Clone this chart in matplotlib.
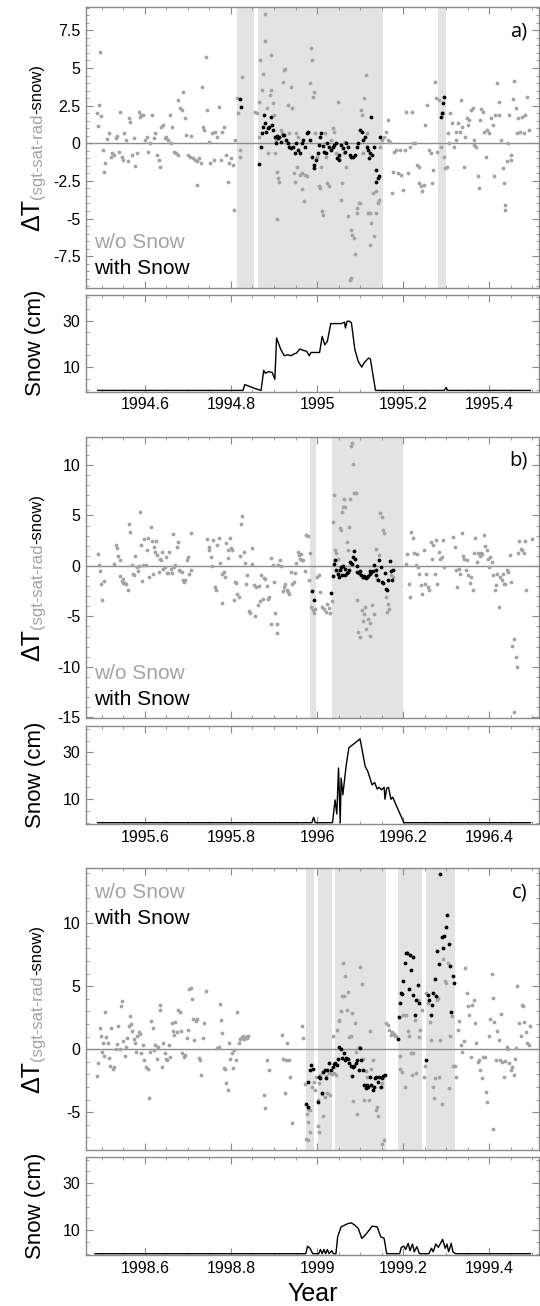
import numpy as np
import matplotlib
matplotlib.use("Agg")
import matplotlib.pyplot as plt
from matplotlib.ticker import MultipleLocator, FixedLocator, FuncFormatter

plt.rcParams['font.family'] = ['Liberation Sans', 'DejaVu Sans']
plt.rcParams['axes.unicode_minus'] = False

# ---------------- data (time = years after Jan 1 of the panel's base year) ----------------
base_years = [1994, 1995, 1998]
panel_tags = ["a)", "b)", "c)"]

# panel a: dT without snow (grey) / with snow (black)
a_grey = [
    (.488, 1.99), (.490, 1.15), (.496, 6.07), (.494, 2.54), (.498, 1.81), (.502, -0.44), (.504, -1.94),
    (.508, -1.28), (.512, 0.26), (.516, 0.71), (.520, -0.88), (.524, -0.66), (.528, -0.77), (.532, 0.33),
    (.536, 0.49), (.540, -0.55), (.542, 2.10), (.546, -0.88), (.548, -1.10), (.552, 0.66), (.556, 0.22),
    (.560, -1.21), (.564, 1.65), (.566, 1.43), (.570, -0.77), (.574, 0.33), (.578, -1.50), (.582, -0.66),
    (.586, 2.10), (.588, 1.77), (.592, 1.88), (.596, 1.88), (.600, 0.22), (.604, 0.40), (.608, -0.55),
    (.612, 0.00), (.616, 1.88), (.620, 0.33), (.624, 0.66), (.628, -0.77), (.632, -1.10), (.634, -1.55),
    (.638, 1.10), (.642, 1.20), (.646, 0.33), (.650, 0.44), (.654, 0.22), (.658, 1.88), (.661, 0.00),
    (.664, 1.10), (.668, -0.55), (.672, -0.66), (.676, -0.77), (.678, 2.87), (.682, 2.32), (.685, 2.20),
    (.688, 3.42), (.692, 1.65), (.696, 0.55), (.700, -0.77), (.704, -0.88), (.708, 0.49), (.712, -1.00),
    (.716, -1.10), (.720, -1.21), (.722, -2.76), (.726, -1.00), (.730, -1.32), (.732, 3.75), (.734, 1.10),
    (.738, 0.88), (.742, 5.74), (.744, 2.20), (.748, 0.11), (.752, -1.32), (.756, 0.66), (.760, -1.10),
    (.764, 0.77), (.768, 0.44), (.772, 2.43), (.776, -1.10), (.780, 0.77), (.784, 1.10), (.788, -0.77),
    (.792, -2.54), (.796, -1.32), (.800, -1.00), (.804, -1.43), (.808, -4.46), (.810, 0.22), (.814, 2.98),
    (.816, 1.99), (.820, -0.44), (.822, -0.88), (.826, 4.37), (.856, 2.10), (.860, 1.99), (.864, 0.40),
    (.866, 2.76), (.868, 5.52), (.872, 3.53), (.874, 4.63), (.878, 6.77), (.880, 8.60), (.884, 2.32),
    (.886, -0.66), (.890, 3.20), (.892, 5.85), (.894, 3.53), (.898, 2.65), (.900, 1.88), (.902, -0.66),
    (.904, 0.22), (.908, -1.88), (.910, -2.32), (.912, -2.54), (.908, -5.03), (.916, 0.88), (.918, 0.66),
    (.920, 4.08), (.924, 4.85), (.926, 4.90), (.930, 0.00), (.932, 2.54), (.936, 0.66), (.940, 3.75),
    (.942, 2.32), (.946, -1.99), (.948, -2.54), (.950, 0.66), (.954, -1.55), (.956, 0.44), (.960, -2.10),
    (.964, -3.04), (.966, -1.99), (.970, -3.86), (.972, -2.10), (.976, -2.20), (.980, 0.77), (.984, 3.97),
    (.986, 6.33), (.988, 5.52), (.990, 3.09), (.994, 3.42), (.996, 0.66), (1.000, -0.88), (1.004, -2.87),
    (1.006, -2.98), (1.010, -1.55), (1.012, -4.52), (1.014, -4.74), (1.018, 0.66), (1.020, -0.88),
    (1.024, -2.65), (1.028, -2.87), (1.032, 0.22), (1.036, 0.99), (1.040, 0.77), (1.044, -0.66),
    (1.048, 2.76), (1.052, -0.88), (1.056, -3.75), (1.058, -2.65), (1.062, -0.66), (1.064, 0.11),
    (1.068, -1.55), (1.072, -4.85), (1.076, -9.05), (1.078, -8.94), (1.080, -5.74), (1.082, -6.07),
    (1.086, -6.29), (1.088, -7.33), (1.092, -4.63), (1.094, -4.30), (1.098, -3.97), (1.100, -3.97),
    (1.102, 2.20), (1.104, 1.88), (1.108, -0.66), (1.110, 2.98), (1.114, 4.52), (1.116, 0.66),
    (1.118, -4.63), (1.122, -6.73), (1.124, -4.63), (1.126, -5.30), (1.130, -3.31), (1.132, -6.18),
    (1.136, -4.63), (1.138, -3.20), (1.142, -3.97), (1.144, -3.75), (1.146, -0.22), (1.150, 0.22),
    (1.156, 0.44), (1.160, 0.77), (1.164, 0.22), (1.166, 1.55), (1.170, 0.11), (1.174, -3.31),
    (1.176, -1.88), (1.180, -0.55), (1.184, -0.44), (1.188, -1.99), (1.192, -0.44), (1.196, -2.10),
    (1.200, -3.09), (1.204, -0.44), (1.208, 2.10), (1.212, -1.99), (1.216, -0.22), (1.220, 2.10),
    (1.224, 0.00), (1.228, 0.00), (1.232, -1.43), (1.236, -2.65), (1.238, -1.55), (1.242, -2.87),
    (1.244, -3.20), (1.248, -2.76), (1.252, 1.21), (1.256, 2.54), (1.260, -0.44), (1.264, -0.66),
    (1.268, -2.65), (1.270, -1.77), (1.274, 4.08), (1.276, 2.98), (1.280, -0.55), (1.284, 2.87),
    (1.288, -0.22), (1.294, 1.99), (1.296, -0.88), (1.298, -1.66), (1.302, -1.55), (1.304, 0.66),
    (1.306, 0.00), (1.310, 1.99), (1.314, 1.32), (1.318, -0.22), (1.322, 0.77), (1.324, 0.22),
    (1.328, 1.32), (1.332, 0.77), (1.334, 2.87), (1.338, 1.10), (1.342, -1.55), (1.344, 0.44),
    (1.348, 1.65), (1.352, 1.21), (1.354, 1.55), (1.358, 2.20), (1.362, 2.32), (1.364, 0.22),
    (1.366, -0.11), (1.370, -0.22), (1.374, -2.20), (1.376, -2.98), (1.380, 1.55), (1.382, 2.25),
    (1.386, 2.10), (1.388, 0.77), (1.392, -0.88), (1.396, 0.88), (1.400, 0.66), (1.404, 1.65),
    (1.408, 1.21), (1.412, -2.20), (1.414, 1.88), (1.418, 3.97), (1.422, 2.76), (1.424, 1.88),
    (1.428, 0.22), (1.432, -1.66), (1.434, -2.65), (1.436, -4.08), (1.438, -4.41), (1.442, -1.21),
    (1.444, 0.00), (1.446, 1.88), (1.450, -1.10), (1.452, -0.77), (1.456, 2.91), (1.458, 4.13),
    (1.462, 2.32), (1.464, 0.66), (1.468, 1.65), (1.472, 0.77), (1.476, 1.77), (1.480, 0.66),
    (1.484, 1.88), (1.488, 3.09), (1.492, 0.88),
]
a_black = [
    (.822, 2.96), (.824, 2.43), (.866, -1.37), (.870, -0.22), (.872, 0.66), (.874, 1.06), (.877, 1.88),
    (.880, 1.32), (.882, 0.77), (.885, 0.99), (.888, 1.10), (.892, 1.77), (.896, 1.21), (.898, 0.88),
    (.902, 0.44), (.904, 0.00), (.906, 0.49), (.909, 0.33), (.912, 0.44), (.916, 0.11), (.920, 0.55),
    (.924, 0.55), (.928, 0.22), (.932, 0.00), (.936, -0.22), (.940, -0.33), (.944, -0.22), (.948, -0.66),
    (.952, 0.00), (.956, -0.44), (.960, -0.66), (.964, 0.00), (.968, 0.22), (.972, -0.22), (.976, 0.66),
    (.980, 0.77), (.984, 0.22), (.988, -0.88), (.992, -1.43), (.994, -1.66), (.998, -1.10), (1.002, -0.66),
    (1.004, -0.11), (1.008, 0.44), (1.010, 0.66), (1.014, -0.18), (1.016, -0.55), (1.020, -0.66),
    (1.024, 0.00), (1.028, -0.22), (1.032, -0.44), (1.036, -0.22), (1.040, -0.11), (1.044, 0.00),
    (1.046, -1.00), (1.050, -1.10), (1.052, -0.77), (1.056, -0.11), (1.060, -0.33), (1.064, -0.55),
    (1.068, 0.00), (1.072, -0.22), (1.076, -0.77), (1.080, -0.88), (1.084, -0.88), (1.088, -0.77),
    (1.092, -0.22), (1.096, 0.00), (1.100, 0.88), (1.104, 0.77), (1.108, 0.22), (1.112, 0.44),
    (1.116, -0.22), (1.118, -0.44), (1.120, -1.00), (1.122, -0.66), (1.126, 1.77), (1.128, -0.77),
    (1.132, -0.22), (1.136, -1.77), (1.138, -2.60), (1.142, -2.32), (1.144, -2.20), (1.146, 0.40),
    (1.288, 1.77), (1.291, 2.03), (1.294, 2.65), (1.295, 3.04),
]

b_grey = [
    (.490, 1.16), (.494, 0.07), (.496, -0.53), (.498, -1.75), (.501, -3.34), (.504, -1.49), (.528, 0.17),
    (.532, 2.05), (.534, 1.82), (.538, 0.99), (.541, -0.99), (.543, 0.56), (.546, -1.49), (.548, -1.26),
    (.550, -1.69), (.554, -1.69), (.557, -1.75), (.560, -2.42), (.562, 4.20), (.566, 3.38), (.569, 0.13),
    (.572, -0.76), (.574, -0.93), (.578, 0.99), (.581, -0.10), (.583, -0.53), (.586, -0.03), (.588, 5.36),
    (.590, 2.05), (.594, -1.49), (.596, 0.07), (.598, 2.62), (.602, 0.07), (.605, 1.62), (.608, 2.72),
    (.610, -1.09), (.614, 3.87), (.616, 2.45), (.618, -0.76), (.622, 1.89), (.624, 1.39), (.626, 2.45),
    (.629, 1.06), (.632, -0.60), (.634, 0.73), (.637, 0.63), (.640, 1.39), (.642, -0.26), (.646, -0.10),
    (.648, 0.89), (.651, -0.66), (.654, -0.70), (.657, 1.39), (.660, -0.26), (.662, -0.70), (.666, 3.15),
    (.668, -0.10), (.670, 0.13), (.674, 1.89), (.677, 2.38), (.679, -0.43), (.682, -0.53), (.685, -0.60),
    (.688, -1.42), (.690, -1.59), (.694, -1.42), (.697, 0.56), (.699, 0.89), (.702, -0.76), (.706, -0.43),
    (.708, 3.21), (.744, 2.62), (.748, 1.62), (.750, 1.89), (.753, 0.89), (.755, -0.03), (.758, 2.55),
    (.762, -2.09), (.765, -2.42), (.768, 2.05), (.771, 2.72), (.774, 0.30), (.778, -0.76), (.780, -3.68),
    (.783, -0.60), (.786, -1.09), (.789, 2.22), (.792, 1.62), (.794, 0.79), (.798, 2.78), (.801, 1.82),
    (.803, 1.62), (.806, -3.41), (.810, -1.59), (.812, -1.69), (.815, -2.75), (.818, -3.08), (.822, 0.96),
    (.824, 4.20), (.826, 4.93), (.830, 1.39), (.832, 0.30), (.835, -1.82), (.838, -0.86), (.842, -4.47),
    (.845, -4.67), (.848, 0.23), (.850, 1.82), (.854, -1.92), (.856, -4.97), (.859, -2.09), (.862, -3.84),
    (.866, -1.99), (.868, -3.48), (.870, -0.93), (.874, -3.31), (.877, -1.16), (.880, -1.26), (.883, -2.02),
    (.886, -3.25), (.889, -3.08), (.892, -5.73), (.894, 0.79), (.898, 0.07), (.900, -1.59), (.902, -4.64),
    (.906, -6.62), (.908, -5.73), (.910, 0.13), (.914, 0.56), (.917, -0.03), (.920, -2.52), (.923, -2.09),
    (.926, -1.75), (.930, -2.42), (.933, -2.58), (.936, -2.75), (.939, -0.60), (.942, -1.75), (.946, -1.59),
    (.949, -0.70), (.952, 0.30), (.955, 1.39), (.958, 1.06), (.960, 0.73), (.962, 1.13), (.965, 0.63),
    (.968, 0.56), (.971, -0.50), (.974, 3.05), (.978, 2.95), (.982, -1.36), (.984, 1.23), (.986, -4.07),
    (.990, -4.40), (.994, -4.64), (.996, -4.24), (1.000, -1.09), (1.004, -0.93), (1.008, -2.58),
    (1.012, -4.07), (1.016, -4.30), (1.020, -4.57), (1.024, -3.74), (1.028, -4.17), (1.030, -4.67),
    (1.034, -3.51), (1.038, 4.30), (1.040, 7.02), (1.042, 1.62), (1.045, 1.23), (1.048, 0.73),
    (1.050, -0.43), (1.053, 3.71), (1.056, 3.54), (1.058, 5.36), (1.061, 5.86), (1.063, 6.59),
    (1.066, 5.86), (1.069, 2.38), (1.072, 1.56), (1.074, 3.81), (1.077, 6.59), (1.079, 11.89),
    (1.082, 12.15), (1.084, 10.10), (1.086, 7.19), (1.090, 7.19), (1.092, -3.41), (1.096, -6.56),
    (1.100, -7.05), (1.104, -4.40), (1.106, -5.46), (1.110, -4.74), (1.112, -4.07), (1.115, -6.23),
    (1.118, -5.23), (1.122, -5.63), (1.124, -6.92), (1.128, -3.91), (1.132, -4.74), (1.136, 1.72),
    (1.140, -1.26), (1.144, 1.06), (1.146, 5.26), (1.150, 4.87), (1.153, 3.54), (1.156, 3.21),
    (1.160, -3.08), (1.162, -4.57), (1.166, -3.74), (1.168, -4.24), (1.172, -0.93), (1.176, -1.09),
    (1.206, 0.17), (1.210, 1.16), (1.213, -1.75), (1.216, -3.08), (1.219, 3.38), (1.222, 2.81),
    (1.226, 1.29), (1.229, 0.13), (1.232, 1.13), (1.235, -0.10), (1.238, -0.76), (1.242, -1.92),
    (1.245, -2.75), (1.248, 1.56), (1.251, -1.75), (1.254, -0.76), (1.258, -2.09), (1.261, -2.42),
    (1.264, 2.38), (1.267, 0.73), (1.270, 2.05), (1.274, -0.76), (1.277, 2.55), (1.280, -1.75),
    (1.283, 1.39), (1.286, 0.73), (1.290, 0.89), (1.293, 2.55), (1.296, -0.10), (1.317, 2.88),
    (1.320, 1.89), (1.323, -0.36), (1.326, -2.09), (1.330, -0.26), (1.333, -0.76), (1.336, 3.21),
    (1.339, 0.96), (1.342, 0.73), (1.346, -0.43), (1.349, 0.56), (1.352, -0.86), (1.355, -1.69),
    (1.358, -1.09), (1.362, -2.42), (1.365, 1.23), (1.368, 2.81), (1.371, 0.40), (1.374, 1.29),
    (1.378, 0.96), (1.381, 1.23), (1.384, 1.16), (1.387, 3.05), (1.390, 1.95), (1.394, 1.56),
    (1.397, 0.73), (1.400, -0.10), (1.403, 0.89), (1.406, 0.40), (1.410, -0.93), (1.413, -2.42),
    (1.416, -1.92), (1.419, -0.76), (1.422, -4.07), (1.426, -1.09), (1.429, -1.42), (1.432, -0.76),
    (1.435, -1.75), (1.438, -1.75), (1.442, -0.43), (1.445, -0.56), (1.448, 1.06), (1.451, -1.59),
    (1.454, -7.98), (1.459, -7.22), (1.462, -9.04), (1.464, -10.03), (1.458, -14.50), (1.467, 1.23),
    (1.470, 2.45), (1.474, 1.72), (1.477, 1.56), (1.480, 1.23), (1.483, 2.45), (1.486, -2.42),
    (1.500, 2.62),
]
b_black = [
    (.988, -2.48), (.992, -3.34), (1.032, -2.68), (1.036, -1.03), (1.040, 0.17), (1.042, 0.63),
    (1.045, -0.43), (1.048, -0.76), (1.050, -1.09), (1.053, -0.43), (1.056, -0.10), (1.058, -0.93),
    (1.061, -0.03), (1.064, -0.26), (1.066, -0.93), (1.069, -0.70), (1.072, -0.60), (1.074, -0.43),
    (1.077, 0.40), (1.079, 0.30), (1.082, 0.17), (1.084, 0.89), (1.086, 1.49), (1.089, 0.73),
    (1.092, -0.03), (1.094, -0.60), (1.098, -0.70), (1.100, -0.53), (1.102, -0.93), (1.106, -1.09),
    (1.108, -1.09), (1.110, -0.96), (1.114, -1.19), (1.116, -1.09), (1.118, -0.96), (1.122, -0.76),
    (1.124, -0.50), (1.126, -0.60), (1.130, -0.53), (1.133, 0.07), (1.136, -0.43), (1.138, -0.93),
    (1.142, -1.42), (1.145, 0.56), (1.148, -0.10), (1.151, -1.59), (1.154, -1.69), (1.157, -0.70),
    (1.160, -2.25), (1.162, -2.42), (1.166, -1.36), (1.169, 0.46), (1.172, -0.50), (1.174, -1.36),
    (1.177, -0.43),
]

c_grey = [
    (.488, -2.10), (.492, -1.06), (.495, 1.68), (.498, 1.01), (.501, -0.19), (.503, 0.48), (.506, -0.53),
    (.508, 2.93), (.510, 0.96), (.514, 0.53), (.516, -0.66), (.519, -1.33), (.522, 1.68), (.526, -1.60),
    (.529, -1.38), (.532, 0.00), (.534, 0.43), (.538, 1.81), (.541, 0.00), (.544, 3.40), (.546, 3.86),
    (.550, 0.69), (.553, -0.53), (.556, 0.21), (.559, 0.88), (.562, 1.81), (.566, 2.61), (.568, 1.99),
    (.571, 1.41), (.574, 0.80), (.577, 0.48), (.580, -0.19), (.582, 1.01), (.586, 1.33), (.589, 1.22),
    (.592, -0.27), (.595, 0.35), (.598, -0.85), (.602, -1.38), (.606, -1.60), (.609, -3.91), (.611, -0.19),
    (.614, 2.21), (.618, 1.68), (.621, -0.05), (.624, 0.35), (.627, -0.80), (.630, 0.21), (.634, 3.14),
    (.636, 3.54), (.639, -1.38), (.642, 0.53), (.646, -0.27), (.649, -0.80), (.652, -0.85), (.655, 0.35),
    (.658, -0.64), (.662, 2.07), (.665, 1.41), (.668, 1.14), (.671, 2.13), (.674, 1.33), (.678, 3.09),
    (.681, 2.95), (.684, 1.41), (.687, -0.32), (.690, -0.64), (.694, -0.45), (.697, 0.88), (.700, 1.54),
    (.703, 4.79), (.706, 4.87), (.709, 3.99), (.712, 2.39), (.715, 0.74), (.718, 2.21), (.722, 2.39),
    (.725, -0.72), (.728, -0.85), (.731, -2.05), (.734, 0.88), (.738, 2.07), (.741, 4.60), (.768, 0.08),
    (.771, 0.21), (.774, 3.62), (.777, 2.29), (.780, 1.28), (.783, -1.46), (.786, -1.60), (.789, -2.71),
    (.792, -3.24), (.795, 0.48), (.798, -0.80), (.802, -0.27), (.805, -1.52), (.808, -0.05), (.811, -0.85),
    (.814, 2.93), (.818, 0.48), (.821, 0.80), (.824, 0.88), (.827, 1.01), (.830, 0.80), (.834, 0.96),
    (.837, 0.88), (.840, 1.01), (.876, -3.64), (.880, -4.63), (.884, -0.85), (.888, -1.65), (.918, 1.09),
    (.922, -0.80), (.925, -3.51), (.928, -0.85), (.931, 0.53), (.934, -0.85), (.938, -2.23), (.942, -5.86),
    (.965, 1.81), (.968, 0.88), (.971, -2.77), (.976, -5.11), (.978, -5.78), (.974, -7.10), (.980, -7.24),
    (.984, -6.57), (.980, -4.71), (.984, -4.79), (.988, -2.98), (.992, -2.58), (.995, -3.24), (.998, -2.18),
    (1.002, -4.04), (1.004, -6.57), (1.002, -6.12), (1.005, -2.66), (1.008, -2.05), (1.012, -3.59),
    (1.014, -5.32), (1.018, -3.78), (1.021, -2.13), (1.024, -3.51), (1.027, -1.86), (1.030, -3.64),
    (1.034, -1.97), (1.037, 1.01), (1.040, -1.91), (1.043, -2.05), (1.046, 1.54), (1.050, 2.34),
    (1.052, 2.21), (1.055, 3.01), (1.058, 4.20), (1.060, 6.81), (1.062, 4.26), (1.066, 5.85),
    (1.069, 3.14), (1.072, 4.52), (1.074, 0.96), (1.078, 1.01), (1.081, 2.87), (1.084, -4.10),
    (1.088, 2.07), (1.091, -0.19), (1.094, -5.11), (1.098, 0.21), (1.101, 6.54), (1.104, 5.21),
    (1.107, -0.80), (1.110, -4.04), (1.114, -1.70), (1.117, -2.18), (1.120, -4.04), (1.123, 1.41),
    (1.126, -1.60), (1.130, -0.85), (1.133, -2.98), (1.136, -4.79), (1.139, -4.57), (1.142, -5.32),
    (1.146, -2.98), (1.149, -2.18), (1.152, -2.71), (1.152, -7.50), (1.155, -7.18), (1.160, 2.07),
    (1.164, 1.89), (1.168, 1.54), (1.171, 1.14), (1.174, 1.33), (1.178, 1.22), (1.181, 1.01),
    (1.184, 1.01), (1.192, -1.60), (1.194, -0.53), (1.198, -1.78), (1.201, 2.74), (1.204, -2.98),
    (1.208, 2.74), (1.211, 1.41), (1.214, 1.01), (1.218, -0.27), (1.221, -2.05), (1.224, -0.32),
    (1.227, 2.34), (1.230, -1.91), (1.234, 3.94), (1.237, 0.96), (1.240, 1.54), (1.244, 3.14),
    (1.248, -2.18), (1.250, -1.33), (1.254, 4.47), (1.258, 3.67), (1.262, 2.13), (1.266, 0.74),
    (1.269, -2.98), (1.272, -3.91), (1.275, -2.31), (1.278, 3.94), (1.282, 4.07), (1.284, -2.18),
    (1.287, 0.74), (1.290, -4.31), (1.294, 7.18), (1.297, 5.40), (1.300, 5.27), (1.304, 6.86),
    (1.307, -3.11), (1.310, 1.01), (1.314, 2.61), (1.317, -1.33), (1.321, -1.33), (1.324, -2.23),
    (1.328, 1.54), (1.331, 2.21), (1.334, 0.35), (1.338, -0.19), (1.342, 0.66), (1.345, 6.46),
    (1.348, 4.47), (1.351, 3.40), (1.354, 2.74), (1.358, -0.59), (1.361, 3.54), (1.364, 3.94),
    (1.367, 2.07), (1.370, 0.48), (1.374, -0.98), (1.377, -0.85), (1.380, -1.65), (1.383, -2.31),
    (1.386, -0.59), (1.390, -0.64), (1.393, -3.38), (1.396, -4.18), (1.399, 1.06), (1.402, 2.39),
    (1.406, 5.98), (1.409, 4.07), (1.410, -6.30), (1.412, 2.13), (1.415, -0.85), (1.418, 1.41),
    (1.422, 0.74), (1.425, -0.85), (1.428, 2.82), (1.431, -0.98), (1.434, -2.18), (1.438, -0.90),
    (1.441, 0.21), (1.444, 0.00), (1.447, -1.06), (1.450, -1.65), (1.454, -1.44), (1.457, -2.05),
    (1.460, -0.80), (1.463, 0.08), (1.466, 5.05), (1.470, 2.07), (1.473, 1.06), (1.476, 3.54),
    (1.479, 3.40), (1.482, 2.13), (1.486, 1.33), (1.489, 0.48), (1.492, 0.35), (1.496, 1.81),
]
c_black = [
    (.974, -4.31), (.978, -4.57), (.980, -2.58), (.984, -1.65), (.986, -1.25), (.990, -1.60),
    (1.002, -4.18), (1.005, -2.18), (1.008, -2.31), (1.012, -3.51), (1.015, -1.78), (1.018, -1.65),
    (1.022, -2.31), (1.024, -1.65), (1.028, -1.06), (1.032, -1.65), (1.036, -1.38), (1.039, -1.20),
    (1.042, -1.06), (1.046, -1.25), (1.049, -0.80), (1.052, 0.21), (1.055, 0.00), (1.058, -0.72),
    (1.062, -0.27), (1.065, -0.85), (1.068, -0.72), (1.071, -0.80), (1.074, -1.12), (1.078, -1.33),
    (1.081, -2.13), (1.084, -1.38), (1.087, -1.33), (1.090, -1.12), (1.094, -0.85), (1.097, -1.65),
    (1.100, 0.08), (1.103, -0.85), (1.106, -1.65), (1.110, -2.85), (1.113, -3.11), (1.116, -2.85),
    (1.119, -2.98), (1.122, -2.18), (1.126, -2.85), (1.129, -3.24), (1.132, -2.98), (1.135, -2.31),
    (1.138, -2.18), (1.142, -2.58), (1.145, -2.18), (1.148, -2.98), (1.151, -2.31), (1.154, -2.13),
    (1.158, -2.05), (1.188, 0.80), (1.190, 2.55), (1.193, 3.67), (1.195, 4.47), (1.198, 4.39),
    (1.201, 5.40), (1.204, 6.86), (1.207, 7.66), (1.210, 7.61), (1.214, 4.79), (1.216, 7.45),
    (1.218, 6.28), (1.222, 7.34), (1.224, 4.34), (1.227, 2.74), (1.230, 3.88), (1.234, 5.13),
    (1.237, 3.67), (1.254, -0.85), (1.258, 4.34), (1.261, 3.94), (1.264, 2.74), (1.267, 3.54),
    (1.270, 4.47), (1.274, 5.61), (1.277, 4.20), (1.280, 7.79), (1.283, 6.73), (1.286, 13.90),
    (1.290, 8.94), (1.293, 8.06), (1.296, 8.99), (1.299, 9.73), (1.302, 10.64), (1.306, 8.32),
    (1.309, 6.60), (1.312, 2.93), (1.315, 5.80), (1.318, 5.27),
]

# snow depth (cm), breakpoints
a_snow = [
    (.490, 0), (.828, 0), (.832, 2.5), (.856, 0.8), (.870, 0), (.876, 8.6), (.880, 7.4), (.888, 8.1),
    (.896, 7.7), (.902, 4.8), (.906, 22.5), (.916, 17.5), (.924, 14.9), (.932, 15.3), (.940, 14.9),
    (.948, 15.8), (.952, 16.0), (.960, 17.8), (.968, 17.2), (.976, 16.8), (.982, 14.9), (.986, 16.3),
    (.996, 16.3), (1.006, 16.3), (1.012, 23.2), (1.018, 19.6), (1.024, 21.1), (1.032, 28.7), (1.044, 28.7),
    (1.056, 28.7), (1.064, 29.3), (1.066, 26.8), (1.070, 29.7), (1.076, 29.7), (1.080, 29.0), (1.088, 17.5),
    (1.096, 12.4), (1.104, 10.0), (1.110, 12.0), (1.120, 13.9), (1.124, 13.5), (1.136, 0), (1.296, 0),
    (1.300, 1.3), (1.304, 0), (1.496, 0),
]
b_snow = [
    (.490, 0), (.988, 0), (.992, 2.3), (.996, 0), (1.036, 0), (1.042, 9.7), (1.046, 3.7), (1.050, 23.3),
    (1.054, 0), (1.056, 19.0), (1.060, 11.9), (1.064, 18.3), (1.068, 24.7), (1.074, 31.9), (1.100, 35.7),
    (1.112, 24.0), (1.118, 21.9), (1.128, 16.1), (1.134, 17.1), (1.140, 14.3), (1.144, 15.1), (1.150, 14.0),
    (1.156, 15.1), (1.158, 10.0), (1.162, 14.7), (1.166, 15.1), (1.172, 10.0), (1.176, 10.9), (1.182, 8.3),
    (1.202, 0), (1.496, 0),
]
c_snow = [
    (.484, 0), (.974, 0), (.978, 3.2), (.984, 2.3), (.990, 0), (1.004, 0), (1.008, 1.8), (1.012, 0),
    (1.016, 1.8), (1.020, 0), (1.024, 1.8), (1.028, 0), (1.034, 1.3), (1.038, 0), (1.044, 0), (1.048, 7.2),
    (1.056, 11.4), (1.064, 12.1), (1.072, 12.8), (1.080, 13.1), (1.088, 12.1), (1.096, 10.7), (1.104, 6.5),
    (1.112, 7.9), (1.120, 9.7), (1.128, 11.7), (1.140, 11.4), (1.148, 7.2), (1.156, 6.5), (1.162, 0),
    (1.192, 0), (1.196, 2.7), (1.202, 3.2), (1.206, 1.8), (1.212, 4.4), (1.216, 1.3), (1.222, 4.1),
    (1.226, 0.8), (1.232, 3.0), (1.238, 0), (1.260, 0), (1.266, 2.3), (1.270, 0.8), (1.276, 4.1),
    (1.282, 2.7), (1.292, 6.1), (1.298, 2.3), (1.302, 4.1), (1.306, 0.8), (1.312, 4.4), (1.316, 0.8),
    (1.322, 0), (1.496, 0),
]

# periods with snow cover (shaded)
a_bands = [(.814, .854), (.862, 1.154), (1.282, 1.299)]
b_bands = [(.984, .998), (1.034, 1.200)]
c_bands = [(.975, .994), (1.002, 1.035), (1.042, 1.160), (1.188, 1.243), (1.254, 1.321)]

dT_ylims = [(-9.58, 9.05), (-15.1, 12.8), (-8.0, 14.36)]
dT_major = [2.5, 5, 5]
dT_minor = [0.5, 1, 1]
legend_top = [False, False, True]

# ---------------- layout ----------------
W, H = 540, 1306
fig = plt.figure(figsize=(W / 100, H / 100), dpi=100)

left, width = 86 / W, 453 / W
main_px = [(7, 287.5), (436.7, 718.3), (868.3, 1150)]
snow_px = [(294.5, 391.7), (726, 824), (1156.7, 1255)]

GREY_PT = '#a3a3a3'
BAND = '#e3e3e3'
FRAME = '#8a8a8a'


def px_rect(top, bottom):
    return [left, 1 - bottom / H, width, (bottom - top) / H]


def style_frame(ax):
    for s in ax.spines.values():
        s.set_color(FRAME)
        s.set_linewidth(1.0)
    ax.tick_params(which='both', direction='in', top=True, right=True, color=FRAME,
                   labelsize=11.5, pad=4)
    ax.tick_params(which='major', length=5, width=0.8)
    ax.tick_params(which='minor', length=2.5, width=0.6)


fmt = FuncFormatter(lambda v, p: f'{v:g}')


def mixed_ylabel(ax, pieces, x_px):
    r = fig.canvas.get_renderer()
    lengths = []
    for txt, size, color, dx in pieces:
        t = fig.text(0, 0, txt, fontsize=size, rotation=90, rotation_mode='anchor',
                     ha='left', va='baseline')
        lengths.append(t.get_window_extent(r).height)
        t.remove()
    pos = ax.get_position()
    yc = (pos.y0 + pos.y1) / 2 * H
    y = yc - sum(lengths) / 2
    for (txt, size, color, dx), L in zip(pieces, lengths):
        fig.text((x_px + dx) / W, y / H, txt, fontsize=size, color=color, rotation=90,
                 rotation_mode='anchor', ha='left', va='baseline')
        y += L


groups = [(a_grey, a_black, a_snow, a_bands), (b_grey, b_black, b_snow, b_bands),
          (c_grey, c_black, c_snow, c_bands)]

for i, (grey, black, snow, bands) in enumerate(groups):
    base = base_years[i]
    xlim = (base + 0.463, base + 1.516)

    ax = fig.add_axes(px_rect(*main_px[i]))
    for lo, hi in bands:
        ax.axvspan(base + lo, base + hi, color=BAND, lw=0, zorder=0)
    ax.axhline(0, color='#8c8c8c', lw=1.0, zorder=1)
    g = np.array(grey)
    k = np.array(black)
    ax.scatter(base + g[:, 0], g[:, 1], s=7.5, color=GREY_PT, lw=0, zorder=2)
    ax.scatter(base + k[:, 0], k[:, 1], s=7.5, color='black', lw=0, zorder=3)
    ax.set_xlim(xlim)
    ax.set_ylim(dT_ylims[i])
    ax.xaxis.set_major_locator(MultipleLocator(0.2))
    ax.xaxis.set_minor_locator(MultipleLocator(0.05))
    ax.yaxis.set_major_locator(MultipleLocator(dT_major[i]))
    ax.yaxis.set_minor_locator(MultipleLocator(dT_minor[i]))
    ax.yaxis.set_major_formatter(fmt)
    style_frame(ax)
    ax.tick_params(axis='x', labelbottom=False)

    hgt = main_px[i][1] - main_px[i][0]
    ax.text(0.974, 1 - 29 / hgt, panel_tags[i], transform=ax.transAxes,
            ha='right', va='baseline', fontsize=14.5, family=['Open Sans', 'DejaVu Sans'])
    if legend_top[i]:
        y1, y2 = 1 - 30 / hgt, 1 - 56 / hgt
    else:
        y1, y2 = 39.5 / hgt, 13.5 / hgt
    ax.text(0.018, y1, 'w/o Snow', color=GREY_PT, fontsize=15, transform=ax.transAxes, va='baseline')
    ax.text(0.018, y2, 'with Snow', color='black', fontsize=15, transform=ax.transAxes, va='baseline')

    mixed_ylabel(ax, [('ΔT', 18, 'black', 0), ('(sgt-sat-rad', 12, GREY_PT, 2.5),
                      ('-snow)', 12, 'black', 2.5)], 39)

    # snow panel
    sx = fig.add_axes(px_rect(*snow_px[i]))
    s = np.array(snow)
    sx.plot(base + s[:, 0], s[:, 1], color='black', lw=1.0)
    sx.set_xlim(xlim)
    sx.set_ylim(-0.55, 41.2)
    sx.xaxis.set_major_locator(MultipleLocator(0.2))
    sx.xaxis.set_minor_locator(MultipleLocator(0.05))
    sx.xaxis.set_major_formatter(fmt)
    sx.yaxis.set_major_locator(FixedLocator([10, 30]))
    sx.yaxis.set_minor_locator(FixedLocator([0, 5, 15, 20, 25, 35, 40]))
    sx.yaxis.set_major_formatter(fmt)
    style_frame(sx)
    sp = sx.get_position()
    fig.text(41 / W, (sp.y0 + sp.y1) / 2, 'Snow (cm)', fontsize=16, rotation=90,
             rotation_mode='anchor', ha='center', va='baseline')

fig.text((86 + 453 / 2) / W, 1 - 1301 / H, 'Year', fontsize=18, ha='center', va='baseline')

fig.savefig('out.png', dpi=100)
